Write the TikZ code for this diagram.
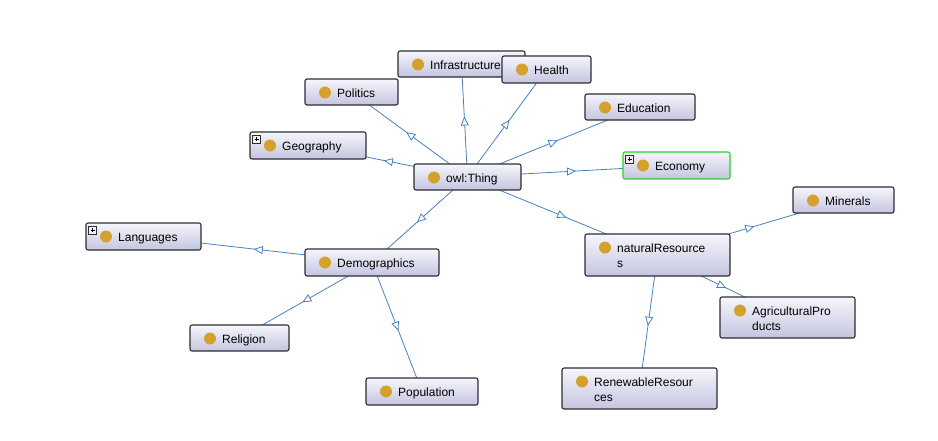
\documentclass[tikz,border=0pt]{standalone}
\usepackage{fontspec}
\setmainfont{Liberation Sans}
\usetikzlibrary{arrows.meta,decorations.markings,backgrounds,fit}
\definecolor{edgeblue}{RGB}{70,130,190}
\definecolor{gold}{RGB}{212,162,44}
\definecolor{boxtop}{RGB}{246,246,252}
\definecolor{boxbot}{RGB}{196,196,224}
\definecolor{boxline}{RGB}{45,45,50}
\definecolor{econgreen}{RGB}{40,210,40}
\tikzset{
 clsbox/.style={draw=boxline, line width=1.1pt, rounded corners=2pt, top color=boxtop, bottom color=boxbot, inner sep=0pt, outer sep=0pt},
 lbl/.style={font=\fontsize{12}{15}\selectfont, inner sep=0pt, anchor=base west, text=black},
 edge/.style={draw=edgeblue, line width=0.8pt},
 tri/.style={color=edgeblue, line width=0.8pt, postaction={decorate}, decoration={markings, mark=at position 0.5 with {\arrow[xshift=4pt]{Triangle[length=9pt,width=8pt,fill=white]}}}},
 plusbox/.style={draw=boxline, fill=gray!12, line width=0.5pt},
}
\newcommand\cls[7][]{%
 \node[clsbox,#1,fit={(#3,#4) (#5,#6)}] (#2) {};
 \fill[gold] (#3+20,#4+13.5) circle (6pt);
 \node[lbl] (#2-t) at (#3+32,#4+18.3) {#7};
}
\newcommand\twolines[2]{\begin{tabular}[t]{@{}l@{}}#1\\#2\end{tabular}}
\newcommand\plusmark[2]{%
 \draw[plusbox] (#1+2.5,#2+3) rectangle (#1+10.5,#2+11);
 \draw[line width=0.6pt] (#1+4.5,#2+7) -- (#1+8.5,#2+7) (#1+6.5,#2+5) -- (#1+6.5,#2+9);
}
\newcommand\rel[2]{%
 \draw[edge] (#1) -- (#2);
 \path[tri] (#1.center) -- (#2.center);
}
\begin{document}
\begin{tikzpicture}[x=1pt,y=-1pt]
\useasboundingbox (0,0) rectangle (938,440);
\cls{infra}{398}{51}{525}{77}{Infrastructure}
\cls{health}{502}{56}{591}{83}{Health}
\cls{politics}{305}{79}{398}{105}{Politics}
\cls{geo}{250}{132}{366}{159}{Geography}
\plusmark{250}{132}
\cls{thing}{414}{164}{521}{190}{owl:Thing}
\cls{edu}{585}{94}{695}{120}{Education}
\cls[draw=econgreen]{econ}{623}{152}{730}{179}{Economy}
\plusmark{623}{152}
\cls{lang}{86}{223}{201}{250}{Languages}
\plusmark{86}{223}
\cls{demo}{305}{249}{439}{276}{Demographics}
\cls{religion}{190}{325}{289}{351}{Religion}
\cls{pop}{366}{378}{478}{405}{Population}
\cls{nat}{585}{234}{730}{276}{\twolines{naturalResource}{s}}
\cls{min}{793}{187}{894}{213}{Minerals}
\cls{agri}{720}{297}{855}{338}{\twolines{AgriculturalPro}{ducts}}
\cls{renew}{562}{368}{717}{409}{\twolines{RenewableResour}{ces}}
\begin{pgfonlayer}{background}
\rel{thing}{politics}
\rel{thing}{infra}
\rel{thing}{health}
\rel{thing}{edu}
\rel{thing}{geo}
\rel{thing}{econ}
\rel{thing}{demo}
\rel{thing}{nat}
\rel{demo}{lang}
\rel{demo}{religion}
\rel{demo}{pop}
\rel{nat}{min}
\rel{nat}{agri}
\rel{nat}{renew}
\end{pgfonlayer}
\end{tikzpicture}
\end{document}
